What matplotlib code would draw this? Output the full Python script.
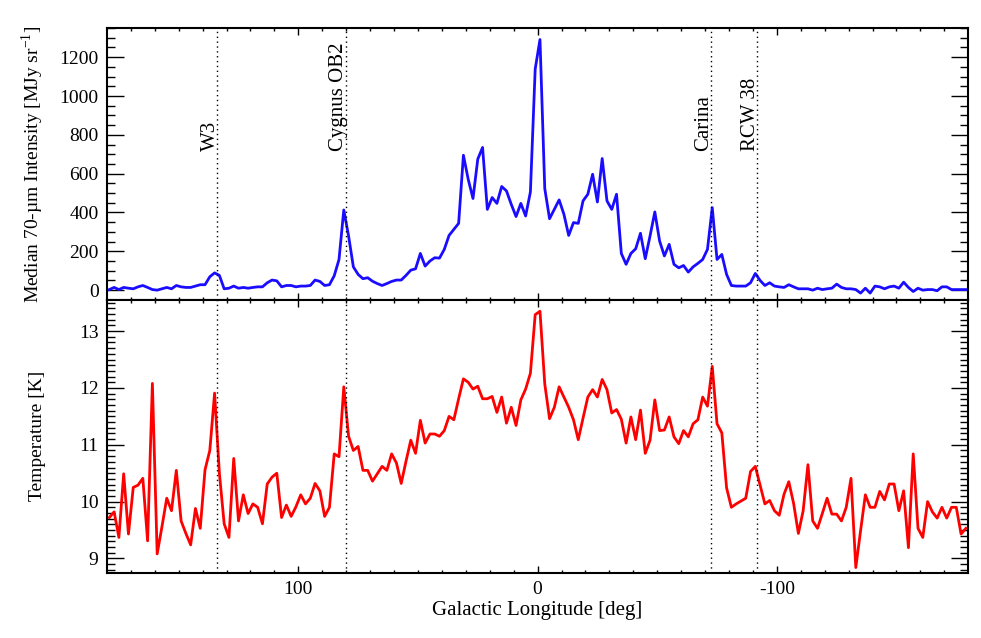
import numpy as np
import matplotlib
matplotlib.use('Agg')
import matplotlib.pyplot as plt

plt.rcParams['font.family'] = ['Liberation Serif', 'DejaVu Serif']
plt.rcParams['mathtext.fontset'] = 'custom'
plt.rcParams['mathtext.rm'] = 'Liberation Serif'
plt.rcParams['axes.unicode_minus'] = False

# galactic longitude bins (2 deg wide, centred on odd degrees)
lon = np.arange(179, -180, -2)

intensity = [
    3, 14, 3, 14, 10, 7, 17, 24, 14, 3,
    0, 7, 14, 7, 24, 17, 14, 14, 21, 28,
    28, 69, 89, 76, 7, 10, 21, 10, 14, 10,
    14, 17, 17, 38, 52, 48, 17, 24, 24, 17,
    21, 21, 24, 52, 45, 24, 28, 74, 158, 413,
    279, 120, 81, 59, 64, 46, 34, 24, 34, 45,
    52, 52, 76, 103, 110, 189, 124, 150, 167, 165,
    210, 282, 313, 344, 695, 571, 472, 675, 735, 416,
    477, 447, 534, 511, 442, 379, 447, 382, 506, 1139,
    1291, 523, 368, 416, 465, 391, 282, 348, 344, 460,
    494, 597, 454, 678, 460, 416, 494, 189, 133, 189,
    213, 293, 162, 279, 403, 253, 176, 236, 133, 115,
    127, 93, 120, 138, 158, 210, 425, 158, 184, 81,
    24, 21, 21, 21, 38, 86, 50, 24, 38, 21,
    17, 14, 28, 17, 7, 7, 7, 0, 10, 3,
    7, 10, 31, 14, 7, 7, 3, -15, 10, -15,
    21, 17, 7, 17, 21, 10, 41, 14, -7, 10,
    0, 3, 3, -3, 17, 17, 3, 3, 3, 3,
]

temperature = [
    9.72, 9.82, 9.37, 10.49, 9.43, 10.25, 10.29, 10.41, 9.31, 12.08,
    9.08, 9.56, 10.06, 9.84, 10.55, 9.66, 9.44, 9.24, 9.88, 9.53,
    10.56, 10.90, 11.91, 10.50, 9.61, 9.37, 10.76, 9.66, 10.12, 9.79,
    9.96, 9.90, 9.61, 10.31, 10.43, 10.50, 9.72, 9.94, 9.74, 9.91,
    10.12, 9.96, 10.06, 10.32, 10.19, 9.74, 9.90, 10.84, 10.79, 12.02,
    11.15, 10.90, 10.97, 10.55, 10.55, 10.36, 10.49, 10.62, 10.55, 10.84,
    10.68, 10.32, 10.71, 11.08, 10.85, 11.43, 11.03, 11.19, 11.19, 11.15,
    11.25, 11.50, 11.44, 11.81, 12.16, 12.10, 11.98, 12.03, 11.81, 11.81,
    11.85, 11.57, 11.84, 11.38, 11.66, 11.34, 11.79, 11.98, 12.26, 13.29,
    13.35, 12.07, 11.46, 11.66, 12.02, 11.84, 11.66, 11.44, 11.09, 11.47,
    11.84, 11.97, 11.84, 12.15, 11.97, 11.56, 11.62, 11.45, 11.03, 11.49,
    11.09, 11.61, 10.85, 11.08, 11.79, 11.25, 11.26, 11.49, 11.14, 11.02,
    11.25, 11.14, 11.37, 11.44, 11.84, 11.68, 12.38, 11.37, 11.21, 10.24,
    9.90, 9.96, 10.01, 10.06, 10.53, 10.62, 10.29, 9.96, 10.02, 9.84,
    9.76, 10.13, 10.35, 9.97, 9.44, 9.84, 10.65, 9.66, 9.53, 9.79,
    10.06, 9.78, 9.78, 9.66, 9.90, 10.41, 8.84, 9.49, 10.12, 9.90,
    9.90, 10.18, 10.03, 10.31, 10.31, 9.84, 10.19, 9.19, 10.84, 9.53,
    9.37, 10.00, 9.82, 9.71, 9.90, 9.71, 9.90, 9.90, 9.43, 9.53,
]

regions = ['W3', 'Cygnus OB2', 'Carina', 'RCW 38']
region_lon = [133.8, 80.2, -72.4, -91.9]

BLUE = '#1a0dff'
RED = '#ff0000'


def style_axis(ax, ymajor, yminor):
    ax.set_xlim(180, -180)
    ax.set_xticks([100, 0, -100])
    ax.set_xticks(np.arange(170, -180, -10), minor=True)
    ax.set_yticks(ymajor)
    ax.set_yticks(yminor, minor=True)
    ax.tick_params(axis='both', which='both', direction='in',
                   top=True, right=True, labelsize=14, width=1, pad=6)
    ax.tick_params(axis='x', which='major', length=5)
    ax.tick_params(axis='x', which='minor', length=2.5)
    ax.tick_params(axis='y', which='major', length=12)
    ax.tick_params(axis='y', which='minor', length=6)
    for sp in ax.spines.values():
        sp.set_linewidth(1.5)


def main():
    fig = plt.figure(figsize=(9.81, 6.38), dpi=100)
    ax1 = fig.add_axes([0.109, 0.530, 0.878, 0.426])
    ax2 = fig.add_axes([0.109, 0.1024, 0.878, 0.4276])

    ax1.plot(lon, intensity, color=BLUE, lw=2)
    ax1.set_ylim(-50, 1350)
    style_axis(ax1, np.arange(0, 1201, 200), np.arange(-50, 1351, 50))
    ax1.tick_params(axis='x', labelbottom=False)
    ax1.set_ylabel(r'Median 70-µm Intensity [MJy sr$^{-1}$]', fontsize=14)
    ax1.yaxis.set_label_coords(-0.071, 0.5)

    ax2.plot(lon, temperature, color=RED, lw=2)
    ax2.set_ylim(8.75, 13.55)
    style_axis(ax2, np.arange(9, 14), np.arange(8.8, 13.56, 0.1))
    ax2.set_ylabel('Temperature [K]', fontsize=14)
    ax2.yaxis.set_label_coords(-0.071, 0.5)
    ax2.set_xlabel('Galactic Longitude [deg]', fontsize=15, labelpad=2)

    # star-forming regions
    for name, l in zip(regions, region_lon):
        for ax in (ax1, ax2):
            ax.axvline(l, color='black', ls=(0, (1, 2.5)), lw=1)
        ax1.annotate(name, xy=(l, 716), xytext=(2, 0),
                     textcoords='offset points', rotation=90,
                     ha='right', va='bottom', fontsize=15)

    plt.savefig('out.png', dpi=100, facecolor='white')
    plt.close()


if __name__ == '__main__':
    main()
